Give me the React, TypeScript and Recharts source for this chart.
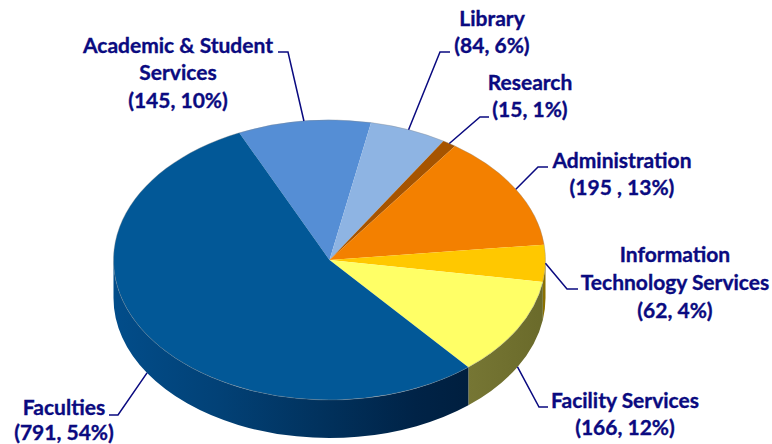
import { Pie, PieChart } from "recharts";

const categories = [
  "Academic & Student Services",
  "Library",
  "Research",
  "Administration",
  "Information Technology Services",
  "Facility Services",
  "Faculties",
];
const values = [145, 84, 15, 195, 62, 166, 791];
const labelLines = [
  ["Academic & Student", "Services", "(145, 10%)"],
  ["Library", "(84, 6%)"],
  ["Research", "(15, 1%)"],
  ["Administration", "(195 , 13%)"],
  ["Information", "Technology Services", "(62, 4%)"],
  ["Facility Services", "(166, 12%)"],
  ["Faculties", "(791, 54%)"],
];
const topColors = ["#558ed5", "#8eb4e3", "#a65400", "#f38000", "#ffc800", "#ffff66", "#025897"];
const wallColors = ["#2f5080", "#50688a", "#5a3000", "#8a4800", "#8a7000", "url(#facilityWall)", "url(#facultyWall)"];

// text centre x, first baseline y, line step, elbow and end of the leader line
const labelLayout = [
  { x: 178, y: 52.5, step: 27.5, elbow: [288, 52], end: [278, 52] },
  { x: 492, y: 25.5, step: 27.5, elbow: [440, 52], end: [450, 52] },
  { x: 530, y: 89.5, step: 27.5, elbow: [480, 117], end: [489, 117] },
  { x: 622, y: 167.5, step: 27.5, elbow: [538, 167], end: [548, 167] },
  { x: 675, y: 261.5, step: 28, elbow: [567, 289], end: [578, 289] },
  { x: 625, y: 407.5, step: 27.5, elbow: [539, 407], end: [548, 407] },
  { x: 64, y: 414.5, step: 25.5, elbow: [118, 415], end: [109, 415] },
];

const tableData = categories.map((name, i) => ({ name, value: values[i] }));

const WIDTH = 772;
const HEIGHT = 444;
const CX = 329.5;
const CY = 260;
const RX = 216;
const SQUASH = 140 / 216;
const DEPTH = 38;
const NAVY = "#0a0a80";

const RAD = Math.PI / 180;
const edge = (cx: number, cy: number, r: number, deg: number) => [
  cx + r * Math.cos(deg * RAD),
  cy - r * SQUASH * Math.sin(deg * RAD),
];

// recharts only draws round sectors, so squash them into the tilted face here
const TiltedSector = (props: any) => {
  const { cx, cy, outerRadius: r, startAngle, endAngle, index } = props;
  const ry = r * SQUASH;
  const [x1, y1] = edge(cx, cy, r, startAngle);
  const [x2, y2] = edge(cx, cy, r, endAngle);
  const large = Math.abs(startAngle - endAngle) > 180 ? 1 : 0;
  const top = `M${cx},${cy} L${x1},${y1} A${r},${ry} 0 ${large} 1 ${x2},${y2} Z`;
  const rim = `M${x1},${y1} A${r},${ry} 0 ${large} 1 ${x2},${y2}`;

  // side wall is only visible on the lower half of the rim
  const from = Math.min(startAngle, 0);
  const to = Math.max(endAngle, -180);
  let wall = null;
  if (from > to) {
    const [wx1, wy1] = edge(cx, cy, r, from);
    const [wx2, wy2] = edge(cx, cy, r, to);
    const d = `M${wx1},${wy1} A${r},${ry} 0 0 1 ${wx2},${wy2} L${wx2},${wy2 + DEPTH} A${r},${ry} 0 0 0 ${wx1},${wy1 + DEPTH} Z`;
    wall = <path d={d} fill={wallColors[index]} />;
  }
  return (
    <g>
      {wall}
      <path d={top} fill={topColors[index]} />
      <path d={rim} fill="none" stroke="#8a8a8a" strokeOpacity={0.35} strokeWidth={1} />
    </g>
  );
};

const SliceLabel = (props: any) => {
  const { index, cx, cy, outerRadius: r, startAngle, endAngle } = props;
  const layout = labelLayout[index];
  const mid = (startAngle + endAngle) / 2;
  const [sx, rimY] = edge(cx, cy, r, mid);
  const sy = mid < -10 ? rimY + DEPTH : rimY;
  return (
    <g>
      <polyline
        points={`${sx},${sy} ${layout.elbow.join(",")} ${layout.end.join(",")}`}
        fill="none"
        stroke={NAVY}
        strokeWidth={1.5}
      />
      <text
        x={layout.x}
        y={layout.y}
        textAnchor="middle"
        fill={NAVY}
        stroke={NAVY}
        strokeWidth={0.35}
        fontFamily="Lato, sans-serif"
        fontWeight={700}
        fontSize={21}
      >
        {labelLines[index].map((line, i) => (
          <tspan key={line} x={layout.x} dy={i === 0 ? 0 : layout.step}>
            {line}
          </tspan>
        ))}
      </text>
    </g>
  );
};

export default function App() {
  return (
    <div style={{ position: "absolute", left: 0, top: 0, width: WIDTH, height: HEIGHT, background: "#fff" }}>
      <PieChart width={WIDTH} height={HEIGHT} margin={{ top: 0, right: 0, bottom: 0, left: 0 }}>
        <defs>
          <linearGradient id="facultyWall" gradientUnits="userSpaceOnUse" x1={113} x2={468} y1={0} y2={0}>
            <stop offset="0" stopColor="#024d8a" />
            <stop offset="0.3" stopColor="#024176" />
            <stop offset="0.6" stopColor="#01315c" />
            <stop offset="0.85" stopColor="#002347" />
            <stop offset="1" stopColor="#001f3f" />
          </linearGradient>
          <linearGradient id="facilityWall" gradientUnits="userSpaceOnUse" x1={468} x2={546} y1={0} y2={0}>
            <stop offset="0" stopColor="#767634" />
            <stop offset="1" stopColor="#6a6a2a" />
          </linearGradient>
        </defs>
        <Pie
          data={tableData}
          dataKey="value"
          nameKey="name"
          cx={CX}
          cy={CY}
          innerRadius={0}
          outerRadius={RX}
          startAngle={114.7}
          endAngle={-245.3}
          paddingAngle={0}
          stroke="none"
          shape={TiltedSector}
          label={SliceLabel}
          labelLine={false}
          isAnimationActive={false}
        />
      </PieChart>
    </div>
  );
}
